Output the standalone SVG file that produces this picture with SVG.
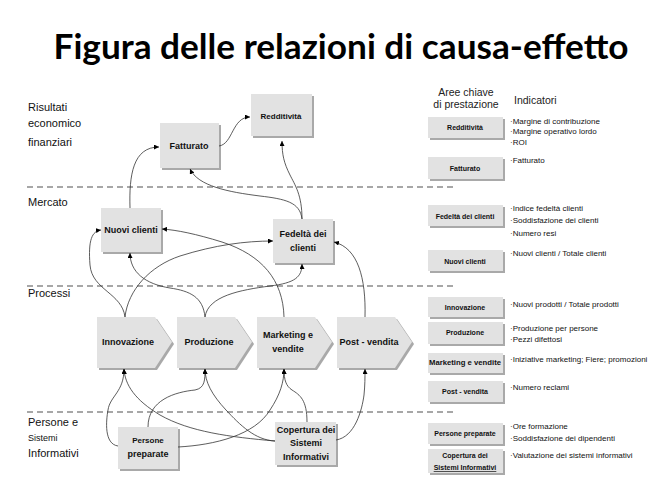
<svg xmlns="http://www.w3.org/2000/svg" width="671" height="501" viewBox="0 0 671 501">
<defs>
<style>
.title{font-family:Lato,"Liberation Sans",sans-serif;font-weight:700;font-size:34px;fill:#000}
.sec{font-family:"Liberation Sans",Arial,sans-serif;font-size:11px;fill:#111}
.nl{font-family:"Liberation Sans",Arial,sans-serif;font-size:9px;font-weight:bold;fill:#111;text-anchor:middle}
.rl{font-family:"Liberation Sans",Arial,sans-serif;font-size:7px;font-weight:bold;fill:#111;text-anchor:middle}
.ind{font-family:"Liberation Sans",Arial,sans-serif;font-size:8px;fill:#111}
.hdr{font-family:"Liberation Sans",Arial,sans-serif;font-size:10.5px;fill:#222}
.box{fill:#e2e2e2}
.shd{fill:#a9a9a9}
.dash{stroke:#8a8a8a;stroke-width:1.6;stroke-dasharray:6 4;fill:none}
.con path{fill:none;stroke:#333;stroke-width:0.8;marker-end:url(#ah)}
</style>
<marker id="ah" viewBox="0 0 6 6" refX="6" refY="3" markerWidth="5" markerHeight="5" markerUnits="userSpaceOnUse" orient="auto">
<path d="M0,0 L6,3 L0,6 Z" fill="#000"/>
</marker>
</defs>
<rect width="671" height="501" fill="#fff"/>
<text class="title" x="341" y="59" text-anchor="middle" textLength="575" lengthAdjust="spacingAndGlyphs">Figura delle relazioni di causa-effetto</text>

<g id="separators">
<line class="dash" x1="27" y1="187" x2="455" y2="187"/>
<line class="dash" x1="27" y1="286" x2="455" y2="286"/>
<line class="dash" x1="27" y1="412" x2="455" y2="412"/>
</g>

<g id="section-labels">
<text class="sec" x="28" y="111">Risultati</text>
<text class="sec" x="28" y="127">economico</text>
<text class="sec" x="28" y="146">finanziari</text>
<text class="sec" x="28" y="206">Mercato</text>
<text class="sec" x="28" y="297">Processi</text>
<text class="sec" x="28" y="426">Persone e</text>
<text class="sec" x="28" y="441" style="font-size:9px">Sistemi</text>
<text class="sec" x="28" y="457">Informativi</text>
</g>

<g id="node-redditivita">
<rect class="shd" x="253" y="96" width="61" height="42"/>
<rect class="box" x="251" y="94" width="61" height="42"/>
<text class="nl" x="281" y="119" style="font-size:8px">Redditività</text>
</g>
<g id="node-fatturato">
<rect class="shd" x="162" y="125" width="59" height="45"/>
<rect class="box" x="160" y="123" width="59" height="45"/>
<text class="nl" x="189" y="149">Fatturato</text>
</g>
<g id="node-nuovi-clienti">
<rect class="shd" x="103" y="210" width="60" height="44"/>
<rect class="box" x="101" y="208" width="60" height="44"/>
<text class="nl" x="131" y="233">Nuovi clienti</text>
</g>
<g id="node-fedelta">
<rect class="shd" x="275" y="221" width="60" height="44"/>
<rect class="box" x="273" y="219" width="60" height="44"/>
<text class="nl" x="303" y="237">Fedeltà dei</text>
<text class="nl" x="303" y="251">clienti</text>
</g>

<g id="node-innovazione">
<path class="shd" d="M99,319 H157 L174,344 L157,370 H99 Z"/>
<path class="box" d="M97,317 H155 L172,342 L155,368 H97 Z"/>
<text class="nl" x="128" y="345">Innovazione</text>
</g>
<g id="node-produzione">
<path class="shd" d="M179,319 H237 L254,344 L237,370 H179 Z"/>
<path class="box" d="M177,317 H235 L252,342 L235,368 H177 Z"/>
<text class="nl" x="209" y="345">Produzione</text>
</g>
<g id="node-marketing">
<path class="shd" d="M259,319 H317 L334,344 L317,370 H259 Z"/>
<path class="box" d="M257,317 H315 L332,342 L315,368 H257 Z"/>
<text class="nl" x="288" y="338">Marketing e</text>
<text class="nl" x="288" y="352">vendite</text>
</g>
<g id="node-post-vendita">
<path class="shd" d="M339,319 H397 L414,344 L397,370 H339 Z"/>
<path class="box" d="M337,317 H395 L412,342 L395,368 H337 Z"/>
<text class="nl" x="369" y="345">Post - vendita</text>
</g>

<g id="node-persone">
<rect class="shd" x="120" y="429" width="60" height="42"/>
<rect class="box" x="118" y="427" width="60" height="42"/>
<text class="nl" x="148" y="443" style="font-size:8px">Persone</text>
<text class="nl" x="148" y="457">preparate</text>
</g>
<g id="node-copertura">
<rect class="shd" x="277" y="424" width="61" height="43"/>
<rect class="box" x="275" y="422" width="61" height="43"/>
<text class="nl" x="306" y="433">Copertura dei</text>
<text class="nl" x="306" y="446">Sistemi</text>
<text class="nl" x="306" y="460">Informativi</text>
</g>

<g id="connectors" class="con">
<path d="M219,146 C233,144 232,117 250,117"/>
<path d="M130,208 C129,175 133,147 159,147"/>
<path d="M302,219 C302,195 295,185 290,175 C284,163 282,155 282,141"/>
<path d="M302,219 C300,202 285,199 260,196 C228,192 198,186 190,169"/>
<path d="M125,317 C122,293 92,290 90,265 C88,240 92,231 101,230"/>
<path d="M125,317 C128,290 150,266 180,256 C215,245 245,241 273,241"/>
<path d="M205,317 C203,297 190,291 170,288 C145,284 130,272 130,253"/>
<path d="M205,317 C208,296 240,290 270,286 C295,283 302,277 302,264"/>
<path d="M284,317 C283,280 262,255 222,242 C196,234 177,230 162,229"/>
<path d="M365,317 C366,278 358,248 334,242"/>
<path d="M118,446 C104,444 106,421 108,410 C110,396 124,392 124,369"/>
<path d="M148,427 C148,400 175,392 195,390 C205,388 205,380 205,369"/>
<path d="M178,447 C215,445 255,435 270,410 C280,395 284,382 284,369"/>
<path d="M275,441 C230,437 190,432 160,415 C135,400 125,385 124,369"/>
<path d="M275,441 C255,440 240,425 226,410 C212,395 205,382 205,369"/>
<path d="M307,422 C307,400 300,395 292,390 C286,386 284,380 284,369"/>
<path d="M336,440 C355,437 362,410 364,395 C365,385 365,378 365,369"/>
</g>

<g id="right-headers">
<text class="hdr" x="466" y="96" text-anchor="middle">Aree chiave</text>
<text class="hdr" x="466" y="108" text-anchor="middle">di prestazione</text>
<text class="hdr" x="514" y="104">Indicatori</text>
</g>

<g id="key-redditivita">
<rect class="shd" x="430" y="119" width="75" height="21"/>
<rect class="box" x="428" y="117" width="75" height="21"/>
<text class="rl" x="465" y="130">Redditività</text>
</g>
<g id="key-fatturato">
<rect class="shd" x="430" y="159" width="75" height="22"/>
<rect class="box" x="428" y="157" width="75" height="22"/>
<text class="rl" x="465" y="171">Fatturato</text>
</g>
<g id="key-fedelta">
<rect class="shd" x="430" y="207" width="75" height="21"/>
<rect class="box" x="428" y="205" width="75" height="21"/>
<text class="rl" x="465" y="219">Fedeltà dei clienti</text>
</g>
<g id="key-nuovi-clienti">
<rect class="shd" x="430" y="252" width="75" height="21"/>
<rect class="box" x="428" y="250" width="75" height="21"/>
<text class="rl" x="465" y="264">Nuovi clienti</text>
</g>
<g id="key-innovazione">
<rect class="shd" x="430" y="299" width="75" height="20"/>
<rect class="box" x="428" y="297" width="75" height="20"/>
<text class="rl" x="465" y="310">Innovazione</text>
</g>
<g id="key-produzione">
<rect class="shd" x="430" y="324" width="75" height="22"/>
<rect class="box" x="428" y="322" width="75" height="22"/>
<text class="rl" x="465" y="335">Produzione</text>
</g>
<g id="key-marketing">
<rect class="shd" x="430" y="355" width="75" height="20"/>
<rect class="box" x="428" y="353" width="75" height="20"/>
<text class="rl" x="465" y="365" textLength="72" lengthAdjust="spacingAndGlyphs">Marketing e vendite</text>
</g>
<g id="key-post-vendita">
<rect class="shd" x="430" y="383" width="75" height="21"/>
<rect class="box" x="428" y="381" width="75" height="21"/>
<text class="rl" x="465" y="394">Post - vendita</text>
</g>
<g id="key-persone">
<rect class="shd" x="430" y="425" width="75" height="21"/>
<rect class="box" x="428" y="423" width="75" height="21"/>
<text class="rl" x="465" y="436">Persone preparate</text>
</g>
<g id="key-copertura">
<rect class="shd" x="430" y="451" width="75" height="24"/>
<rect class="box" x="428" y="449" width="75" height="24"/>
<text class="rl" x="465" y="458">Copertura dei</text>
<text class="rl" x="465" y="470" text-decoration="underline">Sistemi Informativi</text>
</g>

<g id="indicators">
<text class="ind" x="510" y="124">·Margine di contribuzione</text>
<text class="ind" x="510" y="134">·Margine operativo lordo</text>
<text class="ind" x="510" y="145">·ROI</text>
<text class="ind" x="510" y="163">·Fatturato</text>
<text class="ind" x="510" y="211">·Indice fedeltà clienti</text>
<text class="ind" x="510" y="223">·Soddisfazione dei clienti</text>
<text class="ind" x="510" y="236">·Numero resi</text>
<text class="ind" x="510" y="256">·Nuovi clienti / Totale clienti</text>
<text class="ind" x="510" y="307">·Nuovi prodotti / Totale prodotti</text>
<text class="ind" x="510" y="331">·Produzione per persone</text>
<text class="ind" x="510" y="342">·Pezzi difettosi</text>
<text class="ind" x="510" y="362">·Iniziative marketing; Fiere; promozioni</text>
<text class="ind" x="510" y="390">·Numero reclami</text>
<text class="ind" x="510" y="429">·Ore formazione</text>
<text class="ind" x="510" y="441">·Soddisfazione dei dipendenti</text>
<text class="ind" x="510" y="458">·Valutazione dei sistemi informativi</text>
</g>
</svg>
